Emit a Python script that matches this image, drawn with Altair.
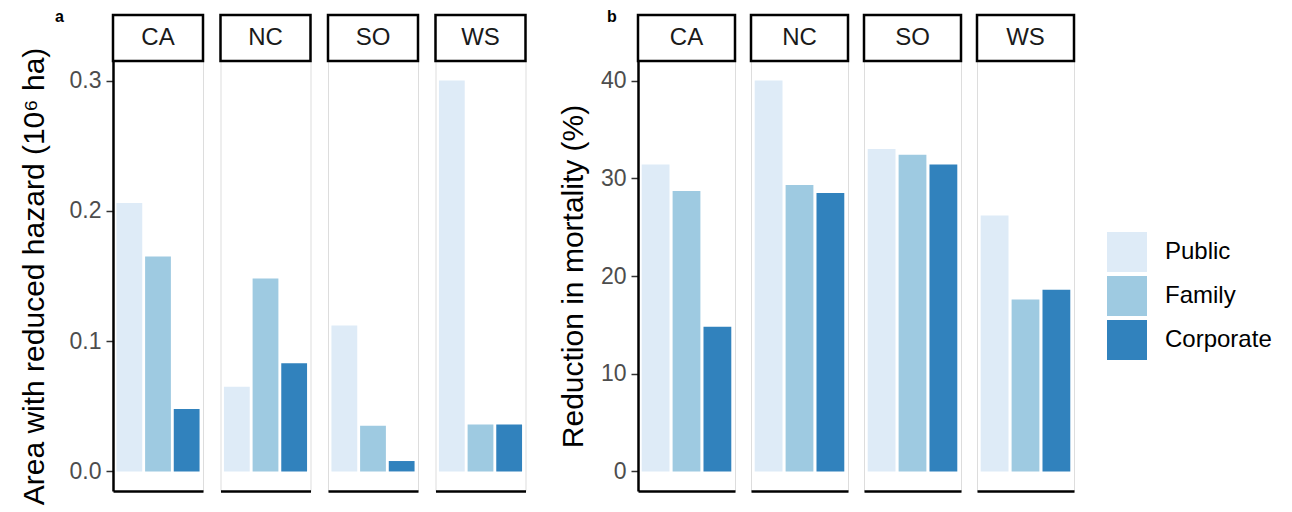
import altair as alt
import pandas as pd

FONT = "Liberation Sans"

regions = ["CA", "NC", "SO", "WS"]
owners = ["Public", "Family", "Corporate"]
owner_colors = ["#deebf7", "#9ecae1", "#3182bd"]

area_public = [0.206, 0.065, 0.112, 0.300]
area_family = [0.165, 0.148, 0.035, 0.036]
area_corporate = [0.048, 0.083, 0.008, 0.036]

mort_public = [31.4, 40.0, 33.0, 26.2]
mort_family = [28.7, 29.3, 32.4, 17.6]
mort_corporate = [14.8, 28.5, 31.4, 18.6]

area_ticks = [0.0, 0.1, 0.2, 0.3]
mort_ticks = [0, 10, 20, 30, 40]


def make_df(pub, fam, corp):
    rows = []
    for i, r in enumerate(regions):
        for o, vals in zip(owners, [pub, fam, corp]):
            rows.append({"region": r, "owner": o, "value": vals[i]})
    return pd.DataFrame(rows)


df_area = make_df(area_public, area_family, area_corporate)
df_mort = make_df(mort_public, mort_family, mort_corporate)

legend = alt.Legend(
    title=None, orient="none", legendX=994, legendY=171,
    symbolType="square", symbolSize=1600, symbolStrokeWidth=0,
    labelFontSize=24, labelFont=FONT, labelColor="black",
    rowPadding=4, labelOffset=18, padding=0, symbolOpacity=1,
)


def facet(df, region, domain, ticks, fmt, width, first, title, tpad, panel_label, label_x):
    sub = df[df.region == region]
    if first:
        yaxis = alt.Axis(
            title=title, values=ticks, format=fmt, grid=False,
            domainColor="black", domainWidth=2.5,
            tickColor="#333333", tickWidth=1.5, tickSize=7,
            labelFontSize=23, labelFont=FONT, labelColor="#4d4d4d", labelPadding=5,
            titleFontSize=30, titleFont=FONT, titleColor="black",
            titleFontWeight="normal", titlePadding=tpad,
        )
    else:
        yaxis = None
    bars = alt.Chart(sub).mark_bar().encode(
        x=alt.X("owner:N", sort=owners,
                scale=alt.Scale(paddingInner=0.1, paddingOuter=0.12),
                axis=alt.Axis(labels=False, ticks=False, title=None,
                              domainColor="black", domainWidth=2.5)),
        y=alt.Y("value:Q", stack=None,
                scale=alt.Scale(domain=domain, nice=False, zero=False),
                axis=yaxis),
        color=alt.Color("owner:N", sort=owners,
                        scale=alt.Scale(domain=owners, range=owner_colors),
                        legend=legend),
    )
    sdf = pd.DataFrame({"region": [region]})
    strip_rect = alt.Chart(sdf).mark_rect(
        fill="white", stroke="black", strokeWidth=2.5
    ).encode(x=alt.value(0), x2=alt.value(width), y=alt.value(-46), y2=alt.value(0))
    strip_text = alt.Chart(sdf).mark_text(
        font=FONT, fontSize=24, color="#1a1a1a", baseline="middle", align="center"
    ).encode(x=alt.value(width / 2), y=alt.value(-23), text="region:N")
    layers = [bars, strip_rect, strip_text]
    if first:
        ldf = pd.DataFrame({"lab": [panel_label]})
        lab = alt.Chart(ldf).mark_text(
            font=FONT, fontSize=16, fontWeight="bold", color="black",
            align="left", baseline="middle"
        ).encode(x=alt.value(label_x), y=alt.value(-44.5), text="lab:N")
        layers.append(lab)
    return alt.layer(*layers).properties(width=width, height=430)


panel_a = alt.hconcat(
    *[facet(df_area, r, [-0.015, 0.315], area_ticks, ".1f", 90, i == 0,
            "Area with reduced hazard (10⁶ ha)", 20, "a", -58)
      for i, r in enumerate(regions)],
    spacing=13.5,
)
panel_b = alt.hconcat(
    *[facet(df_mort, r, [-2, 42], mort_ticks, "d", 97, i == 0,
            "Reduction in mortality (%)", 12, "b", -31)
      for i, r in enumerate(regions)],
    spacing=12,
)

chart = alt.hconcat(panel_a, panel_b, spacing=29).properties(
    padding={"left": 10, "top": 0, "right": 5, "bottom": 5}
).configure_view(
    stroke="#d4d4d4", strokeWidth=2
).configure(
    font=FONT, background="white"
)

chart.save("out.html", embed_options={"renderer": "svg", "actions": False})
